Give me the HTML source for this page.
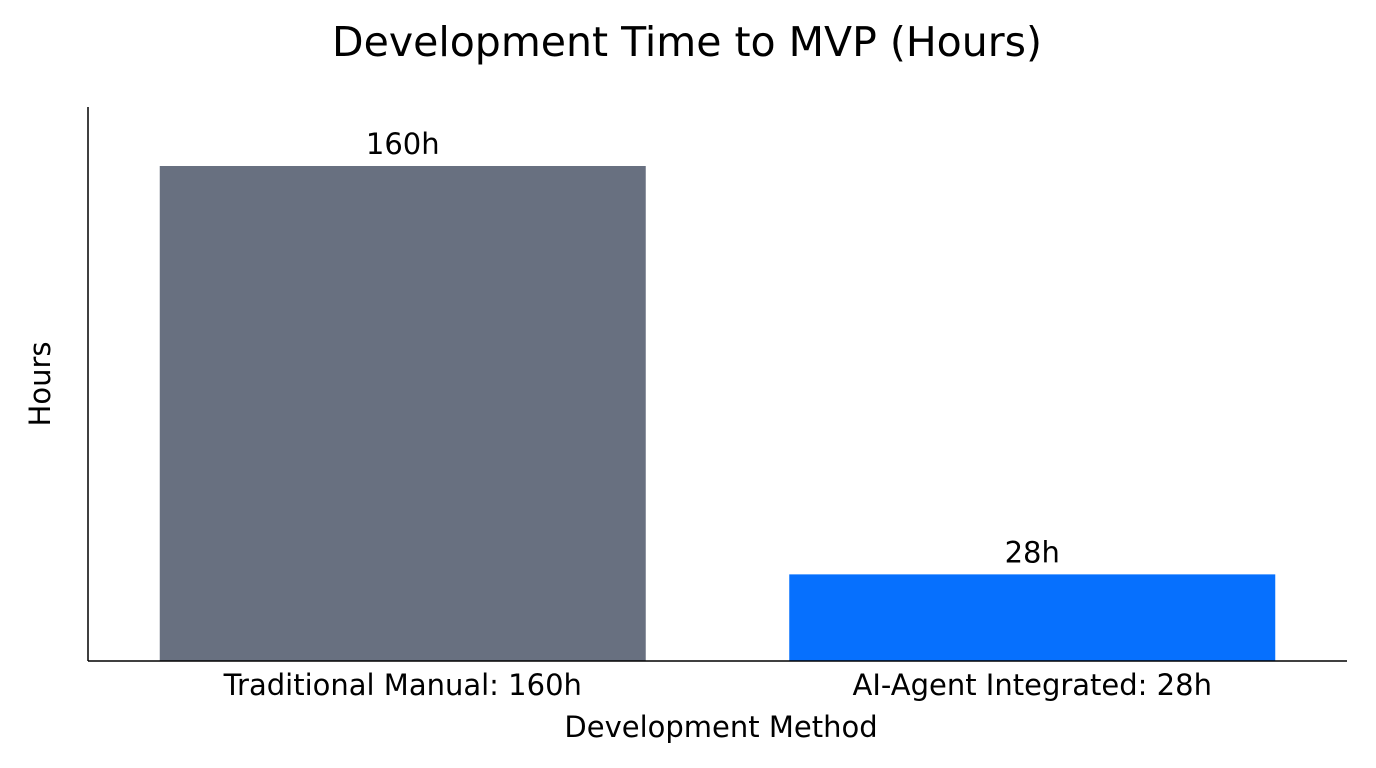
<!DOCTYPE html>
<html>
<head>
<meta charset="utf-8">
<style>
  html,body{margin:0;padding:0;background:#fff;}
  svg{display:block;font-family:"DejaVu Sans","Liberation Sans",sans-serif;}
</style>
</head>
<body>
<svg id="chart" width="1376" height="768" viewBox="0 0 1376 768">
  <text x="687" y="56" font-size="41" text-anchor="middle" fill="#000">Development Time to MVP (Hours)</text>
  <text transform="translate(50,384) rotate(-90)" font-size="29" text-anchor="middle" fill="#000">Hours</text>
  <text x="721" y="737" font-size="29" text-anchor="middle" fill="#000">Development Method</text>
  <g id="bars"></g>
  <line x1="88" y1="107" x2="88" y2="661" stroke="#000" stroke-width="1.5"/>
  <line x1="88" y1="661" x2="1347" y2="661" stroke="#000" stroke-width="1.5"/>
</svg>
<script>
const categories = ["Traditional Manual: 160h", "AI-Agent Integrated: 28h"];
const values = [160, 28];
const valueLabels = ["160h", "28h"];
const colors = ["#687080", "#0670fe"];

const plotLeft = 88, plotRight = 1347, baseY = 661, topY = 166;
const maxVal = 160;
function yScale(v){ return baseY - (v / maxVal) * (baseY - topY); }
const n = categories.length;
const band = (plotRight - plotLeft) / n;
function xCenter(i){ return plotLeft + band * (i + 0.5); }
const barW = 486;

const g = document.getElementById('bars');
const ns = "http://www.w3.org/2000/svg";
for (let i = 0; i < n; i++) {
  const cx = xCenter(i);
  const y = yScale(values[i]);
  const r = document.createElementNS(ns, 'rect');
  r.setAttribute('x', cx - barW / 2);
  r.setAttribute('y', y);
  r.setAttribute('width', barW);
  r.setAttribute('height', baseY - y);
  r.setAttribute('fill', colors[i]);
  
  
  g.appendChild(r);

  const t = document.createElementNS(ns, 'text');
  t.setAttribute('x', cx);
  t.setAttribute('y', y - 12);
  t.setAttribute('font-size', '29');
  t.setAttribute('text-anchor', 'middle');
  t.textContent = valueLabels[i];
  
  
  g.appendChild(t);

  const c = document.createElementNS(ns, 'text');
  c.setAttribute('x', cx);
  c.setAttribute('y', 695);
  c.setAttribute('font-size', '29');
  c.setAttribute('text-anchor', 'middle');
  c.textContent = categories[i];
  
  
  g.appendChild(c);
}
</script>
</body>
</html>
